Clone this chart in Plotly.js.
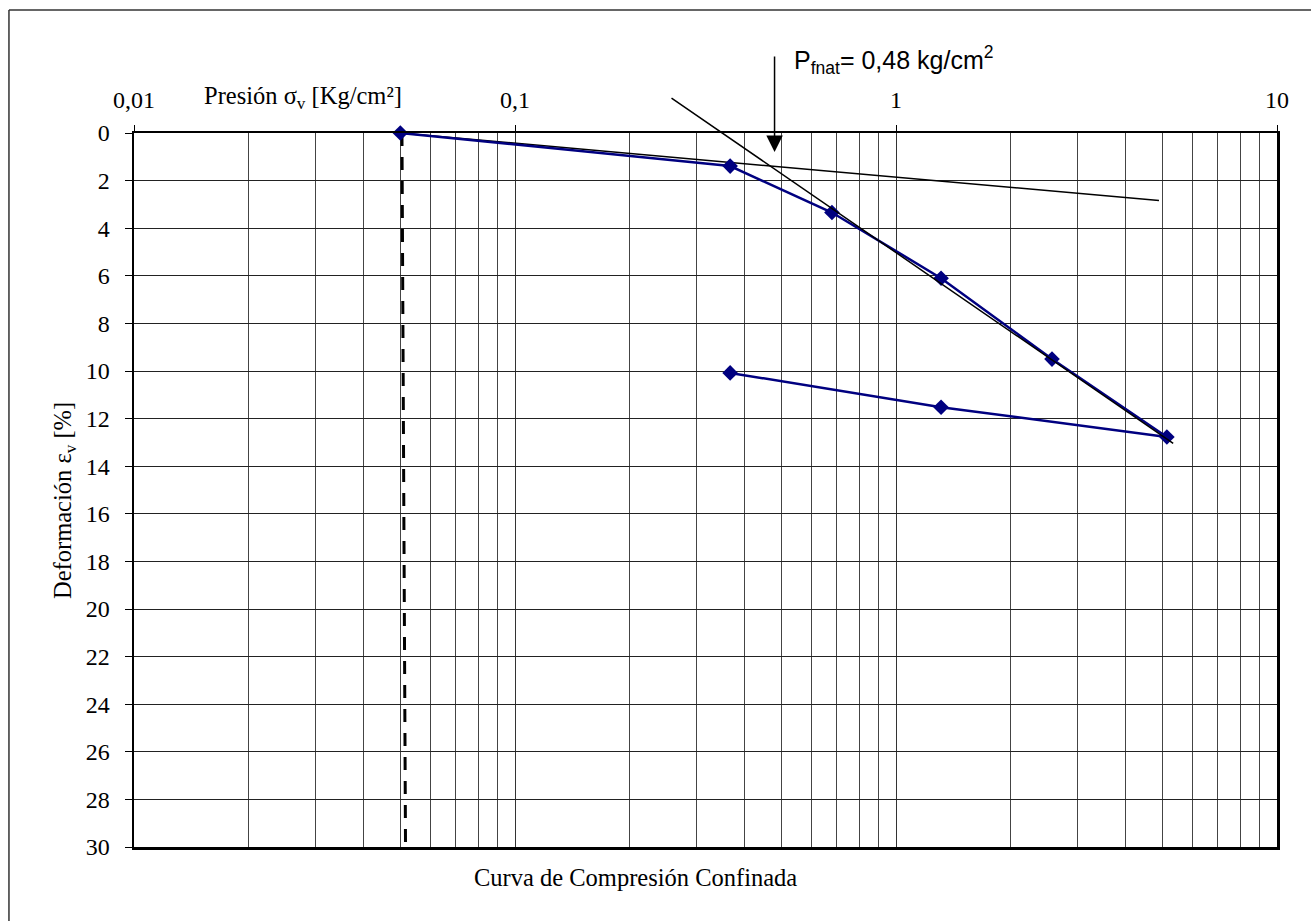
<!DOCTYPE html>
<html>
<head>
<meta charset="utf-8">
<script src="https://cdn.plot.ly/plotly-3.0.1.min.js"></script>
<style>html,body{margin:0;padding:0;background:#fff;}#chart{width:1311px;height:921px;}</style>
</head>
<body>
<div id="chart"></div>
<script>
// Compression curve (loading then unloading)
const presion = [0.05, 0.367, 0.679, 1.313, 2.567, 5.14, 1.313, 0.367];
const deformacion = [0, 1.39, 3.34, 6.10, 9.5, 12.77, 11.52, 10.08];
// Tangent / fit lines
const recta1X = [0.05, 4.90];
const recta1Y = [0, 2.84];
const recta2X = [0.2552, 5.34];
const recta2Y = [-1.51, 13.04];
// Vertical dashed reference
const verticalX = [0.0505, 0.0516];
const verticalY = [0, 30];
// Preconsolidation pressure marker
const pFnat = 0.48;
const pFnatY = 0.8;
// Axis ticks
const xTickVals = [0.01, 0.1, 1, 10];
const xTickText = ['0,01', '0,1', '1', '10'];
const yTickVals = [0,2,4,6,8,10,12,14,16,18,20,22,24,26,28,30];

const minorVals = [];
[0.01, 0.1, 1].forEach(d => { for (let k = 2; k <= 9; k++) minorVals.push(+(k * d).toPrecision(3)); });

const serif = 'Liberation Serif';
const sans = 'Liberation Sans';

const traces = [
  { x: verticalX, y: verticalY, mode: 'lines', line: {color: '#000', width: 3, dash: '13px,11px'}, hoverinfo: 'skip', showlegend: false },
  { x: recta1X, y: recta1Y, mode: 'lines', line: {color: '#000', width: 1.5}, showlegend: false },
  { x: presion, y: deformacion, mode: 'lines+markers', line: {color: '#000080', width: 2.5},
    marker: {symbol: 'diamond', size: 12, color: '#000080'}, showlegend: false, cliponaxis: false }
];

const layout = {
  width: 1311, height: 921,
  margin: {l: 134, r: 34, t: 133, b: 74},
  paper_bgcolor: '#fff', plot_bgcolor: '#fff',
  showlegend: false,
  font: {family: serif, size: 24, color: '#000'},
  xaxis: {
    type: 'log', side: 'top', range: [-2, 1],
    tickmode: 'array', tickvals: xTickVals, ticktext: xTickText,
    ticks: 'outside', ticklen: 6, tickwidth: 1, tickcolor: '#000', ticklabelstandoff: 7,
    tickfont: {family: serif, size: 24, color: '#000'},
    showgrid: true, gridcolor: '#333', gridwidth: 1,
    minor: {tickmode: 'array', tickvals: minorVals, showgrid: true, gridcolor: '#444', gridwidth: 1, ticks: ''},
    showline: true, linecolor: '#000', linewidth: 2.5, mirror: true, zeroline: false
  },
  yaxis: {
    range: [30, 0], tickmode: 'array', tickvals: yTickVals,
    ticks: 'outside', ticklen: 7, tickwidth: 1, tickcolor: '#000', ticklabelstandoff: 10,
    tickfont: {family: serif, size: 24, color: '#000'},
    showgrid: true, gridcolor: '#222', gridwidth: 1,
    showline: true, linecolor: '#000', linewidth: 2.5, mirror: true, zeroline: false
  },
  shapes: [
    {type: 'line', xref: 'paper', yref: 'paper', x0: -0.1094, x1: 1.05, y0: 1.1723, y1: 1.1723, line: {color: '#333', width: 1.5}},
    {type: 'line', xref: 'paper', yref: 'paper', x0: -0.1094, x1: -0.1094, y0: 1.1723, y1: -0.12, line: {color: '#333', width: 1.5}}
  ],
  annotations: [
    {x: Math.log10(recta2X[1]), y: recta2Y[1], ax: Math.log10(recta2X[0]), ay: recta2Y[0], xref: 'x', yref: 'y', axref: 'x', ayref: 'y',
     text: '', showarrow: true, arrowhead: 0, arrowwidth: 1.5, arrowcolor: '#000', standoff: 0, startstandoff: 0},
    {x: Math.log10(pFnat), y: pFnatY, xref: 'x', yref: 'y', ax: 0, ay: -97, axref: 'pixel', ayref: 'pixel',
     text: '', showarrow: true, arrowhead: 2, arrowsize: 2.2, arrowwidth: 1.5, arrowcolor: '#000'},
    {x: 0.5757, y: 1.102, xref: 'paper', yref: 'paper', xanchor: 'left', yanchor: 'middle', showarrow: false,
     text: 'P<sub>fnat</sub>= 0,48 kg/cm<sup>2</sup>', font: {family: sans, size: 25, color: '#000'}},
    {x: 0.148, y: 1.0504, xref: 'paper', yref: 'paper', xanchor: 'center', yanchor: 'middle', showarrow: false,
     text: 'Presión σ<sub>v</sub> [Kg/cm²]', font: {family: serif, size: 24.5, color: '#000'}},
    {x: -0.0604, y: 0.486, xref: 'paper', yref: 'paper', xanchor: 'center', yanchor: 'middle', showarrow: false, textangle: -90,
     text: 'Deformación ε<sub>v</sub> [%]', font: {family: serif, size: 24.5, color: '#000'}},
    {x: 0.439, y: -0.0434, xref: 'paper', yref: 'paper', xanchor: 'center', yanchor: 'middle', showarrow: false,
     text: 'Curva de Compresión Confinada', font: {family: serif, size: 24.5, color: '#000'}}
  ]
};

Plotly.newPlot('chart', traces, layout, {displayModeBar: false, staticPlot: true});
</script>
</body>
</html>
